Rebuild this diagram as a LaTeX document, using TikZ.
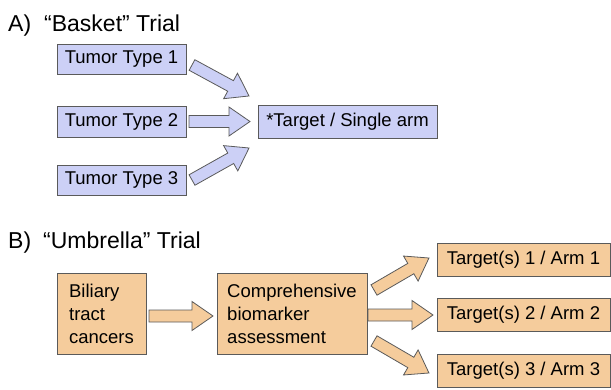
\documentclass[tikz,border=0pt]{standalone}
\usepackage{fontspec}
\setmainfont{Liberation Sans}
\definecolor{bluefill}{RGB}{204,208,246}
\definecolor{orangefill}{RGB}{245,204,156}
\definecolor{edge}{RGB}{90,90,90}
\tikzset{
  pics/barrow/.style={code={
    \draw[pic actions] (0,6) -- ({#1-21},6) -- ({#1-21},14.5) -- (#1,0)
      -- ({#1-21},-14.5) -- ({#1-21},-6) -- (0,-6) -- cycle;}},
  bbox/.style={draw=edge, line width=0.9pt, fill=bluefill, inner sep=0pt,
    font=\fontsize{18.5}{23}\selectfont},
  obox/.style={draw=edge, line width=0.9pt, fill=orangefill, inner sep=0pt,
    font=\fontsize{18.5}{23}\selectfont, align=left},
  barr/.style={draw=edge, line width=0.8pt, fill=bluefill},
  oarr/.style={draw=edge, line width=0.8pt, fill=orangefill},
  ttl/.style={anchor=base west, inner sep=0pt, font=\fontsize{23}{27}\selectfont}
}
\begin{document}
\begin{tikzpicture}[x=1pt,y=-1pt]
\useasboundingbox (0,0) rectangle (611,389);
% titles
\node[ttl] (ta) at (8,31) {A)\hspace{13pt}“Basket” Trial};
\node[ttl] (tb) at (8,248) {B)\hspace{12pt}“Umbrella” Trial};
% Basket
\node[bbox, minimum width=129pt, minimum height=30pt] (t1) at (121.5,59.5) {Tumor Type 1};
\node[bbox, minimum width=129pt, minimum height=31pt] (t2) at (121.5,122) {Tumor Type 2};
\node[bbox, minimum width=129pt, minimum height=30pt] (t3) at (121.5,180) {Tumor Type 3};
\node[bbox, minimum width=179pt, minimum height=33pt] (tg) at (347.5,121.5) {*Target / Single arm};
\pic[barr, rotate=-28.5] at (192,65) {barrow=64.9};
\pic[barr] at (189,121.5) {barrow=61};
\pic[barr, rotate=29.3] at (192,180) {barrow=65.4};
% Umbrella
\node[obox, minimum width=89pt, minimum height=81pt] (bc) at (101.5,313.5) {Biliary\\tract\\cancers};
\node[obox, minimum width=150pt, minimum height=81pt] (cb) at (292,313.5) {Comprehensive\\biomarker\\assessment};
\node[obox, minimum width=173pt, minimum height=33pt, align=center] (a1) at (523.5,259.5) {Target(s) 1 / Arm 1};
\node[obox, minimum width=173pt, minimum height=33pt, align=center] (a2) at (523.5,315) {Target(s) 2 / Arm 2};
\node[obox, minimum width=173pt, minimum height=33pt, align=center] (a3) at (523.5,371) {Target(s) 3 / Arm 3};
\pic[oarr] at (149,316) {barrow=64};
\pic[oarr, rotate=30.2] at (374,290) {barrow=63.6};
\pic[oarr] at (368,315) {barrow=65};
\pic[oarr, rotate=-30.2] at (374,341) {barrow=63.6};
\end{tikzpicture}
\end{document}
